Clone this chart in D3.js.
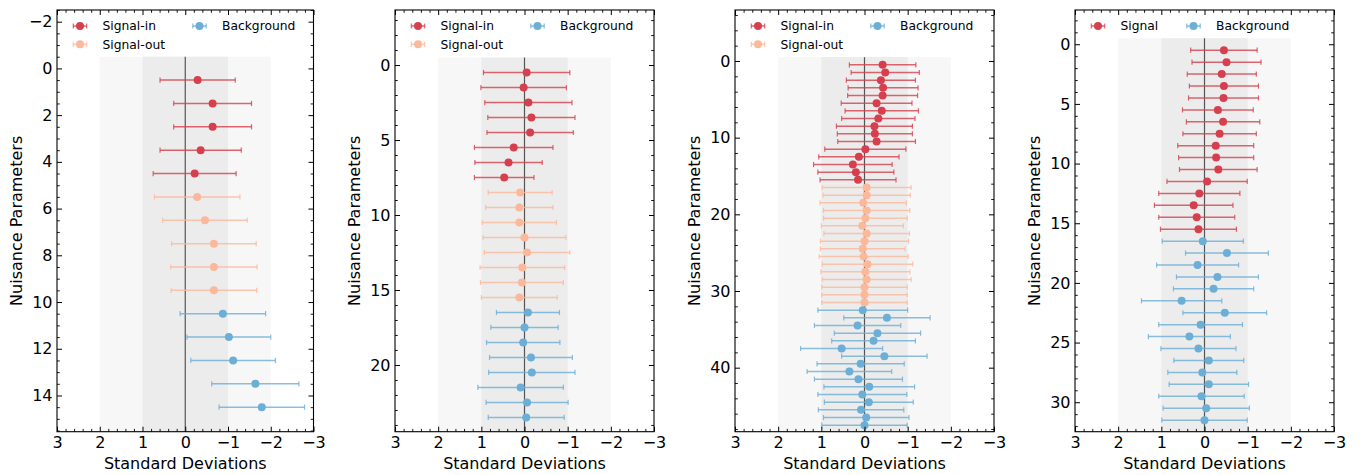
<!DOCTYPE html>
<html>
<head>
<meta charset="utf-8">
<script src="https://cdn.jsdelivr.net/npm/d3@7"></script>
<style>
  body { margin: 0; background: #fff; }
  svg { display: block; font-family: "DejaVu Sans", sans-serif; }
  .tick text { font-size: 16px; fill: #000; }
</style>
</head>
<body>
<svg id="chart" width="1372" height="475"></svg>
<script>
// x ticks of every panel (reversed: 3 on the left, -3 on the right)
const xTicks = [3, 2, 1, 0, -1, -2, -3];

// Panel 1 (15 nuisance parameters)
const p1InVal  = [-0.29, -0.64, -0.64, -0.36, -0.22];
const p1InErr  = [0.88, 0.91, 0.91, 0.95, 0.97];
const p1OutVal = [-0.28, -0.46, -0.67, -0.67, -0.67];
const p1OutErr = [1.00, 0.99, 0.99, 1.01, 1.00];
const p1BkgVal = [-0.88, -1.02, -1.12, -1.64, -1.79];
const p1BkgErr = [1.00, 0.98, 0.99, 1.02, 1.00];

// Panel 2 (24 nuisance parameters)
const p2InVal  = [-0.05, 0.02, -0.09, -0.16, -0.13, 0.25, 0.37, 0.47];
const p2InErr  = [1.00, 0.99, 1.01, 1.01, 1.00, 0.91, 0.78, 0.69];
const p2OutVal = [0.10, 0.12, 0.12, 0.00, -0.06, 0.05, 0.06, 0.12];
const p2OutErr = [0.74, 0.78, 0.86, 0.96, 0.99, 0.98, 0.96, 0.88];
const p2BkgVal = [-0.08, 0.00, 0.03, -0.15, -0.17, 0.09, -0.06, -0.04];
const p2BkgErr = [0.73, 0.78, 0.85, 0.96, 1.00, 0.99, 0.95, 0.88];

// Panel 3 (48 nuisance parameters)
const p3InVal  = [-0.42, -0.48, -0.38, -0.43, -0.42, -0.28, -0.40, -0.32, -0.23, -0.24, -0.28, -0.02, 0.13, 0.27, 0.20, 0.15];
const p3InErr  = [0.77, 0.79, 0.80, 0.81, 0.81, 0.82, 0.85, 0.85, 0.88, 0.87, 0.90, 0.94, 0.93, 0.91, 0.88, 0.88];
const p3OutVal = [-0.05, -0.05, 0.03, -0.05, -0.02, 0.05, -0.05, 0.00, 0.04, 0.02, -0.07, -0.02, -0.05, 0.00, 0.00, 0.00];
const p3OutErr = [1.03, 1.01, 1.00, 1.00, 0.97, 0.95, 0.99, 1.02, 0.98, 1.03, 1.05, 1.03, 1.03, 0.99, 0.99, 0.99];
const p3BkgVal = [0.04, -0.52, 0.16, -0.30, -0.21, 0.53, -0.46, 0.09, 0.35, 0.14, -0.11, 0.05, -0.10, 0.08, -0.04, 0.00];
const p3BkgErr = [1.04, 1.00, 1.00, 1.00, 0.97, 0.95, 0.99, 1.01, 0.98, 1.02, 1.05, 1.03, 1.03, 0.99, 0.99, 0.99];

// Panel 4 (32 nuisance parameters)
const p4SigVal = [-0.45, -0.51, -0.40, -0.45, -0.44, -0.31, -0.43, -0.35, -0.26, -0.27, -0.32, -0.06, 0.12, 0.25, 0.18, 0.14];
const p4SigErr = [0.77, 0.80, 0.80, 0.80, 0.81, 0.82, 0.85, 0.85, 0.88, 0.87, 0.90, 0.93, 0.94, 0.91, 0.88, 0.88];
const p4BkgVal = [0.04, -0.52, 0.16, -0.30, -0.21, 0.53, -0.47, 0.09, 0.35, 0.14, -0.10, 0.05, -0.10, 0.07, -0.04, 0.00];
const p4BkgErr = [0.94, 0.96, 0.95, 0.95, 0.93, 0.93, 0.97, 0.97, 0.95, 0.87, 0.81, 0.80, 0.92, 0.99, 1.00, 0.99];

const colors = { sigIn: "#d6404e", sigOut: "#fcb89b", bkg: "#6baed6" };

const panels = [
    { left: 57, right: 313.5, yDom: [-2.5, 15.55], major: 2, minor: 0.5,
      groups: [[p1InVal, p1InErr, colors.sigIn], [p1OutVal, p1OutErr, colors.sigOut], [p1BkgVal, p1BkgErr, colors.bkg]],
      legend: [["Signal-in", colors.sigIn, 0, 0], ["Background", colors.bkg, 1, 0], ["Signal-out", colors.sigOut, 0, 1]], col2: 119.5 },
    { left: 395, right: 654, yDom: [-3.67, 24.45], major: 5, minor: 1,
      groups: [[p2InVal, p2InErr, colors.sigIn], [p2OutVal, p2OutErr, colors.sigOut], [p2BkgVal, p2BkgErr, colors.bkg]],
      legend: [["Signal-in", colors.sigIn, 0, 0], ["Background", colors.bkg, 1, 0], ["Signal-out", colors.sigOut, 0, 1]], col2: 119.5 },
    { left: 735, right: 994, yDom: [-6.65, 48.35], major: 10, minor: 2,
      groups: [[p3InVal, p3InErr, colors.sigIn], [p3OutVal, p3OutErr, colors.sigOut], [p3BkgVal, p3BkgErr, colors.bkg]],
      legend: [["Signal-in", colors.sigIn, 0, 0], ["Background", colors.bkg, 1, 0], ["Signal-out", colors.sigOut, 0, 1]], col2: 119.5 },
    { left: 1075, right: 1334, yDom: [-2.87, 32.47], major: 5, minor: 1,
      groups: [[p4SigVal, p4SigErr, colors.sigIn], [p4BkgVal, p4BkgErr, colors.bkg]],
      legend: [["Signal", colors.sigIn, 0, 0], ["Background", colors.bkg, 1, 0]], col2: 95.5 }
];

const plotTop = 10, plotBottom = 431.7;
const svg = d3.select("#chart");

function tickRange(a, b, step) {
    const out = [];
    for (let k = Math.ceil(a / step - 1e-9); k * step <= b + 1e-9; k++) out.push(+(k * step).toFixed(4));
    return out;
}

function drawErrorBar(g, cx, cy, x1, x2, color) {
    g.append("line").attr("x1", x1).attr("x2", x2).attr("y1", cy).attr("y2", cy)
        .attr("stroke", color).attr("stroke-width", 1.5).attr("stroke-opacity", 0.8);
    [x1, x2].forEach(xx => g.append("line").attr("x1", xx).attr("x2", xx)
        .attr("y1", cy - 2.6).attr("y2", cy + 2.6)
        .attr("stroke", color).attr("stroke-width", 1.2).attr("stroke-opacity", 0.8));
    g.append("circle").attr("cx", cx).attr("cy", cy).attr("r", 4).attr("fill", color);
}

panels.forEach(p => {
    const x = d3.scaleLinear().domain([3, -3]).range([p.left, p.right]);
    const y = d3.scaleLinear().domain(p.yDom).range([plotTop, plotBottom]);
    const g = svg.append("g");

    // 1 and 2 sigma bands
    g.append("rect").attr("x", x(2)).attr("width", x(-2) - x(2))
        .attr("y", y(-0.5)).attr("height", plotBottom - y(-0.5)).attr("fill", "#f7f7f7");
    g.append("rect").attr("x", x(1)).attr("width", x(-1) - x(1))
        .attr("y", y(-0.5)).attr("height", plotBottom - y(-0.5)).attr("fill", "#ececec");
    g.append("line").attr("x1", x(0)).attr("x2", x(0)).attr("y1", y(-0.5)).attr("y2", plotBottom)
        .attr("stroke", "#555").attr("stroke-width", 1.2);

    // error bars
    let idx = 0;
    p.groups.forEach(([vals, errs, color]) => {
        vals.forEach((v, i) => {
            drawErrorBar(g, x(v), y(idx + 0.5), x(v + errs[i]), x(v - errs[i]), color);
            idx++;
        });
    });

    // axes: ticks inward on all four sides
    const yMajor = tickRange(p.yDom[0], p.yDom[1], p.major);
    const yMinor = tickRange(p.yDom[0], p.yDom[1], p.minor).filter(v => !yMajor.includes(v));
    const xMinor = tickRange(-3, 3, 0.2).filter(v => Math.abs(v - Math.round(v)) > 1e-6);

    const axes = [
        [d3.axisBottom(x).tickValues(xTicks).tickFormat(d3.format("d")), `translate(0,${plotBottom})`, 5],
        [d3.axisLeft(y).tickValues(yMajor).tickFormat(d3.format("d")), `translate(${p.left},0)`, 4.5],
        [d3.axisTop(x).tickValues(xTicks).tickFormat(""), `translate(0,${plotTop})`, 0],
        [d3.axisRight(y).tickValues(yMajor).tickFormat(""), `translate(${p.right},0)`, 0]
    ];
    axes.forEach(([ax, tr, pad]) => {
        const a = g.append("g").attr("transform", tr)
            .call(ax.tickSize(-5).tickSizeOuter(0).tickPadding(pad));
        a.select(".domain").remove();
        a.selectAll("line").attr("stroke", "#000").attr("stroke-width", 1);
        a.selectAll("text").style("font-family", "DejaVu Sans").attr("fill", "#000");
    });
    const minorAxes = [
        [d3.axisBottom(x).tickValues(xMinor), `translate(0,${plotBottom})`],
        [d3.axisTop(x).tickValues(xMinor), `translate(0,${plotTop})`],
        [d3.axisLeft(y).tickValues(yMinor), `translate(${p.left},0)`],
        [d3.axisRight(y).tickValues(yMinor), `translate(${p.right},0)`]
    ];
    minorAxes.forEach(([ax, tr]) => {
        const a = g.append("g").attr("transform", tr)
            .call(ax.tickSize(-2.8).tickSizeOuter(0).tickFormat(""));
        a.select(".domain").remove();
        a.selectAll("line").attr("stroke", "#000").attr("stroke-width", 0.9);
    });

    g.append("rect").attr("x", p.left).attr("y", plotTop)
        .attr("width", p.right - p.left).attr("height", plotBottom - plotTop)
        .attr("fill", "none").attr("stroke", "#000").attr("stroke-width", 1.1);

    // axis labels
    g.append("text").attr("x", (p.left + p.right) / 2).attr("y", 469)
        .attr("text-anchor", "middle").attr("font-size", 16).text("Standard Deviations");
    g.append("text").attr("transform", `translate(${p.left - 35},${(plotTop + plotBottom) / 2}) rotate(-90)`)
        .attr("text-anchor", "middle").attr("font-size", 16).text("Nuisance Parameters");

    // legend
    p.legend.forEach(([label, color, col, row]) => {
        const lx = p.left + 23 + col * p.col2;
        const ly = 26 + row * 18.3;
        drawErrorBar(g, lx, ly, lx - 6.7, lx + 6.7, color);
        g.append("text").attr("x", lx + 22.5).attr("y", ly).attr("dy", "0.35em")
            .attr("font-size", 12.3).text(label);
    });
});
</script>
</body>
</html>
